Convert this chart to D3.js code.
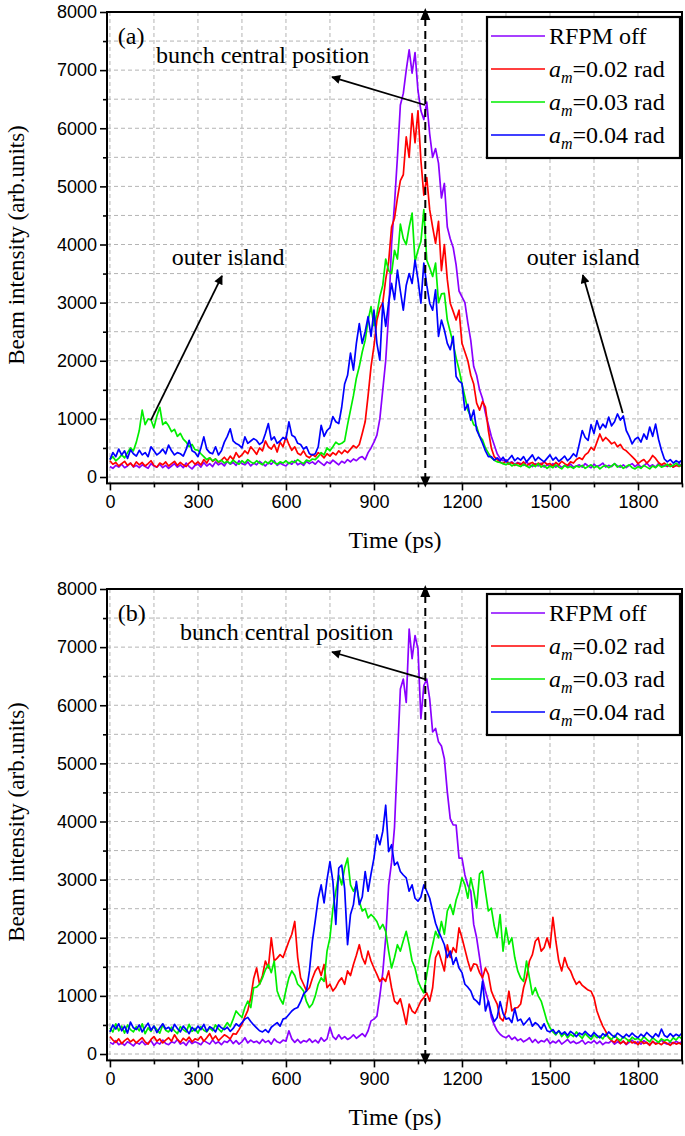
<!DOCTYPE html>
<html><head><meta charset="utf-8">
<script src="https://cdn.jsdelivr.net/npm/d3@7"></script>
<style>body{margin:0;background:#fff}svg{display:block}</style>
</head><body>
<svg id="chart" width="685" height="1136"></svg>
<script>
// ---------- DATA ----------
const times = d3.range(0, 1951, 10); // ps, 196 samples
const seriesNames = ["RFPM off", "0.02", "0.03", "0.04"];
const seriesColors = ["#8a00ff", "#ff0000", "#00ee00", "#0000ff"];
const xMajorTicks = [0, 300, 600, 900, 1200, 1500, 1800];
const yMajorTicks = [0, 1000, 2000, 3000, 4000, 5000, 6000, 7000, 8000];
const panelLabels = ["(a)", "(b)"];
const centralTime = 1075;

const aPurple = [180,150,200,170,220,160,190,240,170,200,
160,210,180,150,230,190,170,220,160,200,
150,190,230,170,210,160,240,180,140,200,
220,170,250,190,230,180,260,210,240,190,
270,220,250,200,280,230,210,260,190,240,
210,270,230,190,250,220,280,200,240,210,
190,250,220,280,210,240,200,270,230,260,
220,280,240,200,260,230,290,250,210,270,
240,300,260,310,280,330,350,300,420,500,
600,720,1000,1500,2000,2800,4000,4700,5500,6400,
6600,7000,7350,6950,7300,6650,6300,6150,6450,5900,
5500,5650,5400,4800,5050,4300,4100,3950,3650,3200,
3100,3000,2650,2350,1900,1750,1500,1350,1100,900,
700,550,400,320,280,300,240,260,220,250,
230,200,260,210,180,230,190,240,170,210,
190,230,170,210,160,200,180,220,170,190,
210,170,230,190,160,220,180,200,240,170,
200,180,230,190,170,210,160,200,230,180,
220,170,190,240,180,210,170,230,190,200,
180,220,170,200,230,190];

const aRed = [280,220,250,190,230,270,200,240,180,260,
210,250,190,230,280,200,170,240,210,260,
190,230,270,200,250,210,180,240,280,220,
260,210,300,240,330,270,310,250,290,340,
280,360,300,420,340,380,450,400,520,460,
390,500,450,620,520,480,560,430,600,520,
690,560,460,520,410,380,450,360,330,390,
350,420,380,330,400,360,420,380,450,400,
460,420,480,540,500,560,750,950,1400,1900,
2250,2700,2900,3000,3400,3700,4300,4450,4800,5100,
5200,5850,5500,6250,5750,6300,5450,4850,5150,4600,
4300,4020,4400,3550,4000,3400,2990,2850,2700,2870,
2300,2150,2000,1750,1600,1270,1150,1300,1200,800,
500,350,300,260,230,280,220,250,200,240,
210,260,190,230,250,200,240,210,260,220,
230,190,250,210,270,230,200,260,240,300,
330,300,380,420,510,460,600,740,620,680,
630,570,600,520,560,480,450,400,350,300,
230,270,300,240,290,370,320,250,210,240,
190,220,170,200,180,210];

const aGreen = [300,350,280,320,380,330,420,500,450,600,
800,1150,900,1000,980,850,1050,1200,900,950,
880,780,820,700,750,650,600,520,560,470,
460,400,350,300,330,280,310,260,290,240,
270,230,290,250,220,280,240,300,260,230,
280,240,210,270,230,290,250,220,260,240,
280,230,270,250,300,260,230,290,270,310,
300,350,420,380,500,450,520,600,560,580,
620,900,1150,1400,1700,1900,2150,2350,2700,2930,
2600,2800,3100,3300,3750,3550,3500,3900,3750,4350,
4100,4000,4300,4540,3700,3900,4050,4600,3730,3600,
3450,3680,3000,3150,3160,2700,2500,2300,2050,1850,
1600,1380,1150,1040,900,870,700,640,500,410,
330,290,260,250,230,210,240,190,220,200,
180,220,190,160,210,180,230,170,200,150,
190,160,210,170,140,200,160,180,150,190,
170,200,150,180,210,160,190,140,180,200,
160,190,230,170,200,150,180,210,160,140,
180,150,200,170,140,190,160,210,170,190,
220,180,200,240,190,210];

const aBlue = [300,420,350,480,380,450,320,470,400,360,
460,380,420,350,520,450,380,420,480,400,
550,450,380,420,400,360,480,630,450,420,
350,500,690,480,420,400,520,380,450,600,
700,830,620,575,550,500,690,580,620,660,
630,560,600,750,920,640,690,580,620,680,
650,950,720,690,580,560,480,520,400,380,
400,520,890,700,800,850,1040,950,920,1200,
1600,1750,2130,1840,2300,2640,2300,2500,2760,2420,
2870,2300,2010,2990,2590,3000,3330,3050,3560,3200,
2870,3300,3500,3330,3730,3400,2990,3680,3300,2990,
2870,3220,2420,2700,2530,2300,2190,2420,1730,1650,
1610,1150,1250,980,1150,810,700,580,450,350,
350,290,330,280,340,260,310,370,280,330,
290,350,260,320,380,280,340,300,260,320,
380,290,340,270,310,360,280,330,400,350,
570,800,680,630,900,750,970,820,910,850,
1030,880,950,1085,980,1050,800,700,570,650,
685,600,740,650,860,700,910,650,460,310,
260,300,240,280,250,290];

const bPurple = [200,170,230,160,190,150,210,180,140,200,
170,220,160,190,230,150,200,170,240,180,
160,210,190,250,170,200,150,230,180,210,
190,160,230,200,170,240,180,210,160,220,
200,250,180,230,170,210,280,190,240,200,
220,180,250,200,230,170,260,210,190,240,
220,400,260,200,250,190,230,210,260,200,
240,190,280,220,260,460,300,250,330,260,
300,250,280,330,270,310,350,300,400,570,
600,650,1000,1400,2000,2900,3300,3900,5100,6280,
6450,6050,7310,6800,7200,6970,5770,6340,6450,6110,
5540,5600,5370,5300,5080,4510,4050,3940,3940,3370,
3370,3080,2900,2800,2230,2000,1660,1300,1085,900,
630,500,400,340,300,280,320,250,290,230,
260,210,240,280,200,250,190,230,210,260,
180,220,190,240,170,210,250,190,220,180,
200,240,170,210,190,230,180,220,160,200,
190,230,170,210,180,220,160,200,240,180,
210,170,230,190,160,210,180,200,240,190,
170,200,180,220,190,210];

const bRed = [300,240,200,260,180,230,270,210,250,190,
240,280,210,170,250,300,220,260,190,240,
280,220,330,250,200,270,230,290,210,260,
240,300,220,280,350,250,310,230,280,330,
300,260,350,340,420,510,640,750,970,1300,
1480,1200,1350,1600,1480,2000,1600,1650,1710,1660,
1800,1940,2060,2280,1660,1310,1200,1085,1140,1300,
1430,1500,1350,1540,1140,1200,1085,1150,1250,1310,
1200,1430,1350,1540,1700,1880,1660,1550,1770,1600,
1480,1370,1250,1310,1250,1430,1140,910,860,950,
740,510,860,740,700,800,910,970,1050,910,
1140,1660,1770,1600,1430,1880,1660,1830,1750,2170,
2000,1800,1600,1430,1550,1540,1400,1310,1480,1370,
1085,960,860,620,570,740,1080,740,790,800,
860,1140,1310,1600,1710,1940,2000,1770,1830,2000,
1830,2350,1940,1600,1430,1660,1500,1430,1300,1200,
1250,1180,1140,1100,1080,970,740,600,480,390,
280,230,200,260,180,220,170,240,190,210,
160,230,180,200,150,220,170,190,160,210,
180,150,200,170,190,160];

const bGreen = [450,380,520,400,480,360,500,420,380,470,
400,520,350,450,390,480,420,360,500,410,
380,460,400,350,470,420,380,510,390,440,
360,470,410,380,450,400,500,430,380,460,
540,470,600,740,680,630,800,910,800,1140,
1150,1200,1310,1450,1540,1400,1600,1085,950,860,
1100,1310,1430,1350,1200,1150,1085,900,800,860,
1000,1200,1310,1250,1770,2000,2500,2800,3080,2910,
3200,3370,2910,2800,2910,2630,2460,2500,2340,2400,
2350,2280,2150,2230,2110,1770,1480,1660,1880,1770,
1950,2110,1880,1600,1480,1260,1140,1050,1370,1660,
1880,2110,2000,2280,2060,2460,2570,2400,2650,2800,
3030,2910,2680,3030,2800,2510,3100,3150,2800,2460,
2510,2200,2000,2400,1770,2170,1890,2000,1660,1430,
1310,1250,1600,1310,1020,1140,1000,910,740,560,
450,380,330,400,300,360,280,340,300,380,
320,270,350,300,250,330,280,310,260,340,
290,250,320,270,230,300,260,220,290,250,
270,230,300,250,210,280,240,200,260,230,
250,210,280,240,300,260];

const bBlue = [380,500,430,520,400,480,360,550,450,420,
500,380,460,530,410,480,370,450,520,430,
460,390,510,440,380,480,420,350,460,400,
480,420,510,390,470,440,380,500,450,420,
460,390,440,520,480,540,600,630,560,500,
450,400,380,420,370,460,500,540,480,600,
620,680,740,780,800,900,1030,1085,1430,1940,
2300,2680,2910,2600,3000,3310,2970,2230,3200,3250,
2850,1880,2400,2570,2970,2570,2700,3140,2800,3100,
3370,3770,3600,3830,4280,3480,3600,3250,3300,3140,
3080,3030,2800,2910,2680,2630,2700,2910,2800,2680,
2460,2250,2110,2000,1880,1660,1770,1540,1660,1480,
1400,1200,1150,1085,950,910,850,1250,740,910,
700,560,630,900,700,600,620,540,780,570,
600,500,560,620,480,540,500,430,520,400,
380,420,350,400,340,380,320,390,350,300,
360,330,390,340,300,370,320,280,350,310,
380,330,290,360,320,280,340,300,360,310,
280,340,300,370,320,280,350,300,430,320,
290,350,300,340,310,360];

// ---------- LAYOUT ----------
const svg = d3.select("#chart");
const SANS = "'Liberation Sans', Arial, sans-serif";
const SERIF = "'Liberation Serif', 'Times New Roman', serif";
const x = d3.scaleLinear().domain([-10, 1950]).range([107, 682]);

const defs = svg.append("defs");
defs.append("marker").attr("id", "ah").attr("viewBox", "0 0 10 10")
  .attr("refX", 9).attr("refY", 5).attr("markerWidth", 11).attr("markerHeight", 9)
  .attr("markerUnits", "userSpaceOnUse").attr("orient", "auto")
  .append("path").attr("d", "M0,0 L10,5 L0,10 z").attr("fill", "#000");

const panels = [
  {top: 12, data: [aPurple, aRed, aGreen, aBlue], label: panelLabels[0],
   bunchText: [157, 7120], bunchArrow: [[1074, 6400], [757, 6880]],
   islands: true},
  {top: 589, data: [bPurple, bRed, bGreen, bBlue], label: panelLabels[1],
   bunchText: [239, 7120], bunchArrow: [[1074, 6450], [757, 6916]],
   islands: false}
];

panels.forEach((p, pi) => {
  const y = d3.scaleLinear().domain([-110, 8000]).range([p.top + 471.4, p.top]);
  const g = svg.append("g");
  const x0 = x.range()[0], x1 = x.range()[1];
  const yTop = y(8000), yBot = y(-110);

  // grid
  const gx = d3.range(0, 1801, 150);
  const gy = d3.range(0, 7501, 500);
  g.append("g").selectAll("line").data(gx).join("line")
    .attr("x1", d => x(d)).attr("x2", d => x(d)).attr("y1", yTop).attr("y2", yBot)
    .attr("stroke", "#b4b4b4").attr("stroke-width", 1).attr("stroke-dasharray", "4,3");
  g.append("g").selectAll("line").data(gy).join("line")
    .attr("x1", x0).attr("x2", x1).attr("y1", d => y(d)).attr("y2", d => y(d))
    .attr("stroke", "#b4b4b4").attr("stroke-width", 1).attr("stroke-dasharray", "4,3");

  // clip
  const cid = "clip" + pi;
  defs.append("clipPath").attr("id", cid).append("rect")
    .attr("x", x0).attr("y", yTop).attr("width", x1 - x0).attr("height", yBot - yTop);

  const line = d3.line().x((d, i) => x(times[i])).y(d => y(d));
  const lg = g.append("g").attr("clip-path", `url(#${cid})`);
  p.data.forEach((s, si) => {
    lg.append("path").datum(s).attr("d", line).attr("fill", "none")
      .attr("stroke", seriesColors[si]).attr("stroke-width", 1.7)
      .attr("stroke-linejoin", "round");
  });

  // central dashed line with arrowheads
  const cx = x(centralTime);
  g.append("line").attr("x1", cx).attr("x2", cx).attr("y1", yTop + 6).attr("y2", yBot - 6)
    .attr("stroke", "#000").attr("stroke-width", 2).attr("stroke-dasharray", "8,5");
  g.append("path").attr("d", `M${cx},${yTop - 4} L${cx - 5},${yTop + 8} L${cx + 5},${yTop + 8} Z`).attr("fill", "#000");
  g.append("path").attr("d", `M${cx},${yBot + 4} L${cx - 5},${yBot - 7} L${cx + 5},${yBot - 7} Z`).attr("fill", "#000");

  // frame
  g.append("rect").attr("x", x0).attr("y", yTop).attr("width", x1 - x0).attr("height", yBot - yTop)
    .attr("fill", "none").attr("stroke", "#000").attr("stroke-width", 2);

  // axes
  const fmt = d3.format("d");
  const xa = d3.axisBottom(x).tickValues(xMajorTicks).tickSize(7).tickPadding(5).tickSizeOuter(0).tickFormat(fmt);
  const xm = d3.axisBottom(x).tickValues(d3.range(150, 1951, 300)).tickSize(4).tickFormat("").tickSizeOuter(0);
  const ya = d3.axisLeft(y).tickValues(yMajorTicks).tickSize(7).tickPadding(3).tickSizeOuter(0).tickFormat(fmt);
  const ym = d3.axisLeft(y).tickValues(d3.range(500, 7501, 1000)).tickSize(4).tickFormat("").tickSizeOuter(0);
  [[xa, `translate(0,${yBot})`], [xm, `translate(0,${yBot})`], [ya, `translate(${x0},0)`], [ym, `translate(${x0},0)`]]
    .forEach(([ax, tr]) => {
      const ag = g.append("g").attr("transform", tr).call(ax);
      ag.select(".domain").remove();
      ag.selectAll("line").attr("stroke", "#000").attr("stroke-width", 1.6);
      ag.selectAll("text").attr("font-family", SANS).attr("font-size", 18).attr("fill", "#000");
    });

  // axis titles
  g.append("text").attr("x", 395).attr("y", p.top + 536).attr("text-anchor", "middle")
    .attr("font-family", SERIF).attr("font-size", 24).text("Time (ps)");
  g.append("text").attr("transform", `translate(24,${p.top + 233}) rotate(-90)`).attr("text-anchor", "middle")
    .attr("font-family", SERIF).attr("font-size", 23).text("Beam intensity (arb.units)");

  // panel label
  g.append("text").attr("x", x(27)).attr("y", y(7450)).attr("font-family", SERIF).attr("font-size", 24).text(p.label);

  // bunch central position annotation
  g.append("text").attr("x", x(p.bunchText[0])).attr("y", y(p.bunchText[1]))
    .attr("font-family", SERIF).attr("font-size", 24).text("bunch central position");
  g.append("line").attr("x1", x(p.bunchArrow[0][0])).attr("y1", y(p.bunchArrow[0][1]))
    .attr("x2", x(p.bunchArrow[1][0])).attr("y2", y(p.bunchArrow[1][1]))
    .attr("stroke", "#000").attr("stroke-width", 1.8).attr("marker-end", "url(#ah)");

  if (p.islands) {
    g.append("text").attr("x", x(211)).attr("y", y(3650)).attr("font-family", SERIF).attr("font-size", 24).text("outer island");
    g.append("text").attr("x", x(1421)).attr("y", y(3650)).attr("font-family", SERIF).attr("font-size", 24).text("outer island");
    g.append("line").attr("x1", x(140)).attr("y1", y(980)).attr("x2", x(382)).attr("y2", y(3460))
      .attr("stroke", "#000").attr("stroke-width", 1.8).attr("marker-end", "url(#ah)");
    g.append("line").attr("x1", x(1748)).attr("y1", y(1100)).attr("x2", x(1612)).attr("y2", y(3475))
      .attr("stroke", "#000").attr("stroke-width", 1.8).attr("marker-end", "url(#ah)");
  }

  // legend
  const lgx = 487, lgy = p.top + 5, lgw = 193, lgh = 141;
  const leg = g.append("g");
  leg.append("rect").attr("x", lgx).attr("y", lgy).attr("width", lgw).attr("height", lgh)
    .attr("fill", "#fff").attr("stroke", "#000").attr("stroke-width", 2.2);
  seriesNames.forEach((nm, i) => {
    const ry = p.top + 24 + i * 33;
    leg.append("line").attr("x1", lgx + 4).attr("x2", lgx + 58).attr("y1", ry).attr("y2", ry)
      .attr("stroke", seriesColors[i]).attr("stroke-width", 1.7);
    const t = leg.append("text").attr("x", lgx + 62).attr("y", ry + 8)
      .attr("font-family", SERIF).attr("font-size", 24).attr("fill", "#000");
    if (i === 0) { t.text(nm); }
    else {
      t.append("tspan").attr("font-style", "italic").text("a");
      t.append("tspan").attr("font-style", "italic").attr("font-size", 16).attr("dy", 6).text("m");
      t.append("tspan").attr("dy", -6).text("=" + nm + " rad");
    }
  });
});
</script>
</body></html>
